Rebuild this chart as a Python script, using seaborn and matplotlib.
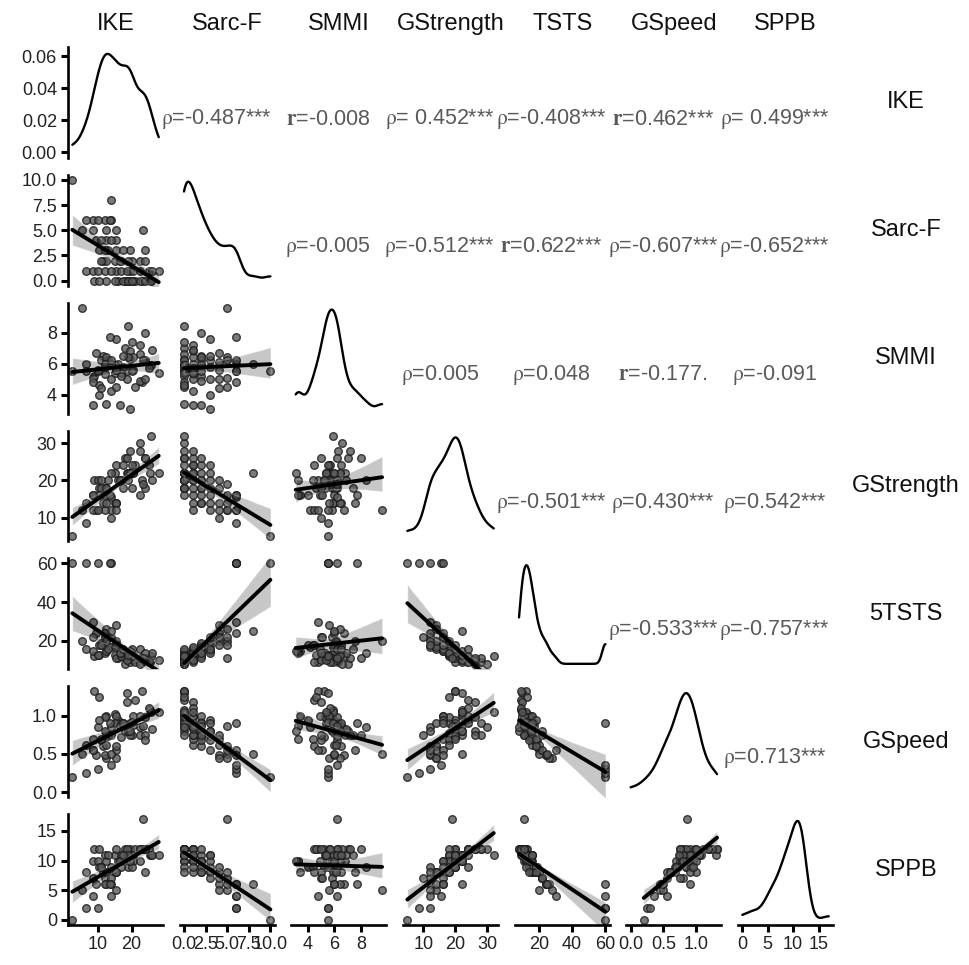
import numpy as np
import pandas as pd
import matplotlib
matplotlib.use("Agg")
import matplotlib.pyplot as plt
import seaborn as sns
from matplotlib.ticker import MultipleLocator, FormatStrFormatter
from matplotlib.collections import PolyCollection

sns.set_theme(style="white")
plt.rcParams["font.family"] = ["Liberation Sans", "DejaVu Sans"]
plt.rcParams["mathtext.fontset"] = "stix"

nan = np.nan

# ---- data (one entry per subject) ----
IKE = [9.0, 18.5, 23.0, 18.0, 19.5, 20.5, 16.0, 21.0, 22.5, 17.5, 15.0, 24.0, 19.0, 12.5, 25.5, 20.0, 10.5, 25.7,
       6.5, 8.5, 10.0, 12.0, 19.5, 15.5, 17.0, 18.5, 20.5, 22.5, 25.0, 26.0, 28.0, 14.0,
       11.5, 12.5, 17.0, 20.0, 22.5, 11.0, 19.0, 15.0, 24.0, 16.5,
       10.5, 13.0, 15.5, 19.5, 24.0, 12.0, 17.5,
       9.5, 12.5, 15.5, 11.0, 14.0,
       5.4, 8.5, 12.5, 15.5, 23.5,
       8.5, 12.0, 14.0, 2.5, 6.5, 10.0, 14.0, 13.5, nan]
SARCF = [0, 0, 0, 0, 0, 0, 0, 0, 0, 0, 0, 0, 0, 0, 0, 0, 0, 0,
         1, 1, 1, 1, 1, 1, 1, 1, 1, 1, 1, 1, 1, 1,
         2, 2, 2, 2, 2, 2, 2, 2, 2, 2,
         3, 3, 3, 3, 3, 3, 3,
         4, 4, 4, 4, 4,
         5, 5, 5, 5, 5,
         6, 6, 8, 10, 6, 6, 6, 6, nan]
SMMI = [5.2, 5.5, 4.8, 7.0, 6.3, 5.6, 6.0, 4.5, 6.6, 5.8, 5.4, 6.2, 8.4, 3.4, 5.9, 7.4, 4.6, 5.9,
        6.0, 3.3, 5.6, 5.3, 6.8, 5.6, 5.4, 5.0, 6.4, 7.2, 5.7, 6.9, 5.4, 4.2,
        6.5, 6.0, 5.2, 5.5, 4.9, 6.2, 6.4, 5.9, 8.0, 3.3,
        4.0, 6.2, 7.6, 3.1, 5.0, 5.8, 6.5,
        6.7, 6.1, 5.6, 4.4, 5.0,
        9.6, 5.1, 6.4, 4.5, 6.2,
        4.8, 6.0, 6.0, 5.5, 5.5, 5.5, 6.2, 7.7, nan]
GSTRENGTH = [20, 22, 20, 26, 28, 22, 20, 24, 30, 18, 22, 26, 20, 16, 22, 18, 18, 32,
             14, 16, 20, 18, 22, 24, 20, 26, 22, 28, 24, 20, 22, 12,
             14, 18, 20, 24, 16, 18, 22, 14, 26, 20,
             16, 20, 14, 22, 18, 12, 24,
             12, 18, 14, 20, 10,
             12, 16, 14, 12, 19,
             12, 16, 22, 5, 8.5, 12, 15.5, 16, nan]
TSTS = [12, 10, 9, 8, 9, 10, 11, 9, 8, 12, 13, 10, 14, 15, 9, 16, 13, 12,
        16, 15, 13, 14, 12, 11, 12, 10, 13, 11, 9, 14, 10, 17,
        18, 15, 14, 12, 16, 19, 13, 17, 11, 14,
        18, 16, 20, 15, 14, 22, 16,
        24, 20, 28, 18, 22,
        20, 22, 26, 18, 11,
        30, 24, 25, 60, 60, 60, 60, 60, nan]
GSPEED = [1.32, 1.30, 1.32, 0.80, 0.90, 1.00, 0.95, 1.20, 0.85, 0.90, 1.02, 0.98, 0.85, 1.00, 1.08, 0.75, 1.25, 1.05,
          0.62, 0.70, 0.85, 0.98, 0.75, 1.00, 0.90, 1.18, 0.88, 0.75, 1.10, 0.82, 1.05, 0.85,
          0.60, 0.78, 0.72, 0.92, 1.00, 0.68, 0.80, 0.90, 0.75, 0.86,
          0.95, 0.74, 0.55, 0.80, 0.68, 0.80, 0.90,
          0.48, 0.62, 0.45, 0.70, 0.75,
          0.50, 0.55, 0.45, 0.60, 0.86,
          0.55, 0.48, 0.50, 0.20, 0.25, 0.30, 0.35, 0.90, 0.0]
SPPB = [12, 11, 12, 12, 12, 11, 10, 12, 12, 10, 11, 12, 9, 8, 11, 11, 12, 11,
        8, 10, 10, 11, 10, 12, 11, 12, 10, 12, 12, 11, 11, 9,
        8, 10, 9, 9, 10, 9, 11, 8, 12, 10,
        9, 11, 8, 10, 8, 7, 11,
        6, 8, 5, 9, 7,
        5, 7, 6, 8, 17,
        4, 6, 6, 0, 2, 2, 4, 6, nan]

VARS = ["IKE", "Sarc-F", "SMMI", "GStrength", "TSTS", "GSpeed", "SPPB"]
COL_TITLES = ["IKE", "Sarc-F", "SMMI", "GStrength", "TSTS", "GSpeed", "SPPB"]
ROW_LABELS = ["IKE", "Sarc-F", "SMMI", "GStrength", "5TSTS", "GSpeed", "SPPB"]

RHO = r"$\mathrm{\rho}$"
R = r"$\mathbf{r}$"
# upper-triangle correlation labels, row by row (columns i+1 .. 6)
CORR_LABELS = [
    [RHO + "=-0.487***", R + "=-0.008", RHO + "= 0.452***", RHO + "=-0.408***", R + "=0.462***", RHO + "= 0.499***"],
    [RHO + "=-0.005", RHO + "=-0.512***", R + "=0.622***", RHO + "=-0.607***", RHO + "=-0.652***"],
    [RHO + "=0.005", RHO + "=0.048", R + "=-0.177.", RHO + "=-0.091"],
    [RHO + "=-0.501***", RHO + "=0.430***", RHO + "=0.542***"],
    [RHO + "=-0.533***", RHO + "=-0.757***"],
    [RHO + "=0.713***"],
]

# axis styling per variable
TICK_STEP = [10, 2.5, 2, 10, 20, 0.5, 5]
TICK_FMT = ["%d", "%.1f", "%d", "%d", "%d", "%.1f", "%d"]
BW_ADJ = [0.7, 0.7, 0.7, 0.8, 0.35, 1.0, 0.9]

df = pd.DataFrame({"IKE": IKE, "Sarc-F": SARCF, "SMMI": SMMI, "GStrength": GSTRENGTH,
                   "TSTS": TSTS, "GSpeed": GSPEED, "SPPB": SPPB})

n = len(VARS)
fig, axes = plt.subplots(n, n, figsize=(9.69, 9.65), dpi=100, sharex="col")
fig.subplots_adjust(left=0.0702, right=0.8597, bottom=0.0415, top=0.9513,
                    wspace=0.175, hspace=0.153)

lims = []
for k in VARS:
    v = df[k].dropna()
    lo, hi = v.min(), v.max()
    pad = (hi - lo) * 0.05
    lims.append((lo - pad, hi + pad))

TXT = "#222222"
for i in range(n):
    for j in range(n):
        ax = axes[i, j]
        if i > j:
            sns.regplot(data=df, x=VARS[j], y=VARS[i], ax=ax, color="black",
                        truncate=True, seed=0,
                        scatter_kws=dict(s=30, facecolor=(0.35, 0.35, 0.35, 0.38),
                                         edgecolor=(0.1, 0.1, 0.1, 0.6), linewidths=1.0),
                        line_kws=dict(lw=2.8))
            for c in ax.collections:
                if isinstance(c, PolyCollection):
                    c.set_alpha(0.22)
            ax.set_ylim(lims[i])
        elif i == j:
            sns.kdeplot(data=df, x=VARS[i], ax=ax, cut=0, bw_adjust=BW_ADJ[i],
                        color="black", lw=1.7)
            ymax = ax.get_lines()[0].get_ydata().max()
            ax.set_ylim(-0.055 * ymax, 1.07 * ymax)
        else:
            ax.text(0.385, 0.35, CORR_LABELS[i][j - i - 1], transform=ax.transAxes,
                    ha="center", va="center", fontsize=15.5, color="#5a5a5a")
        ax.set_xlabel("")
        ax.set_ylabel("")
        for s in ax.spines.values():
            s.set_visible(False)
        ax.tick_params(left=False, bottom=False, labelleft=False, labelbottom=False)
        ax.grid(False)

for j in range(n):
    axes[0, j].set_xlim(lims[j])
    axes[0, j].xaxis.set_major_locator(MultipleLocator(TICK_STEP[j]))
    axes[0, j].xaxis.set_major_formatter(FormatStrFormatter(TICK_FMT[j]))

# left axis of first column
for i in range(n):
    ax = axes[i, 0]
    ax.spines["left"].set_visible(True)
    ax.spines["left"].set_linewidth(1.9)
    ax.spines["left"].set_color("black")
    if i == 0:
        ax.yaxis.set_major_locator(MultipleLocator(0.02))
        ax.yaxis.set_major_formatter(FormatStrFormatter("%.2f"))
    else:
        ax.yaxis.set_major_locator(MultipleLocator(TICK_STEP[i]))
        ax.yaxis.set_major_formatter(FormatStrFormatter(TICK_FMT[i]))
    ax.tick_params(axis="y", left=True, labelleft=True, length=5, width=2.2,
                   color="black", labelsize=13, labelcolor=TXT, pad=3)

# bottom axis of last row
for j in range(n):
    ax = axes[n - 1, j]
    ax.spines["bottom"].set_visible(True)
    ax.spines["bottom"].set_linewidth(1.9)
    ax.spines["bottom"].set_color("black")
    ax.tick_params(axis="x", bottom=True, labelbottom=True, length=5, width=2.2,
                   color="black", labelsize=13, labelcolor=TXT, pad=3)

# column titles and row labels
for j in range(n):
    pos = axes[0, j].get_position()
    fig.text((pos.x0 + pos.x1) / 2, 0.975, COL_TITLES[j], ha="center", va="center",
             fontsize=17, color="#111111")
for i in range(n):
    pos = axes[i, 0].get_position()
    fig.text(0.935, (pos.y0 + pos.y1) / 2, ROW_LABELS[i], ha="center", va="center",
             fontsize=17, color="#111111")

fig.savefig("out.png", dpi=100, facecolor="white")
